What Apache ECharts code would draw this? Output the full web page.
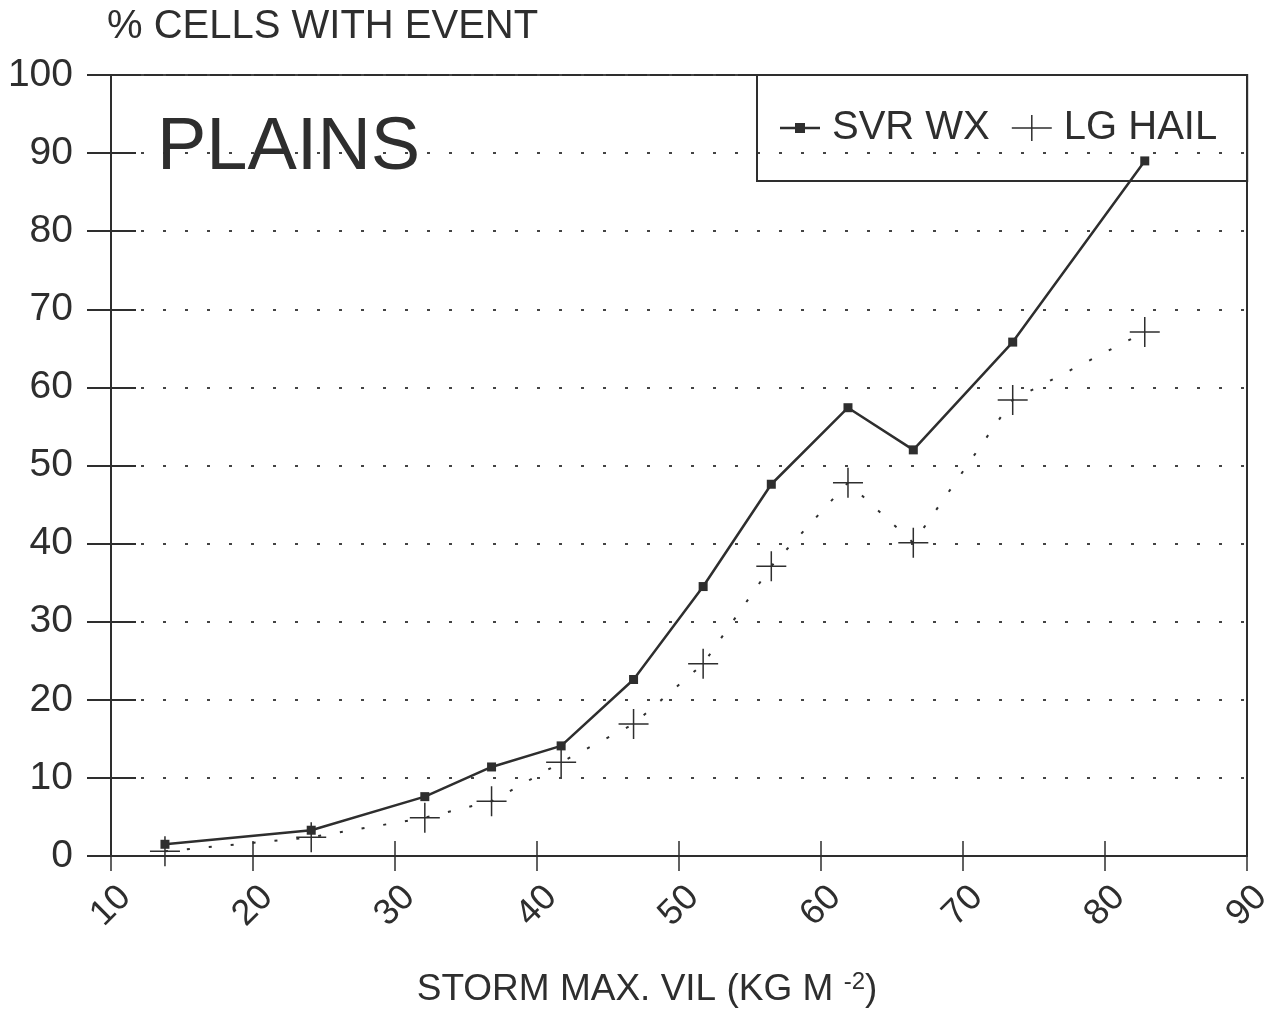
<!DOCTYPE html>
<html><head><meta charset="utf-8">
<script src="https://cdn.jsdelivr.net/npm/echarts@6/dist/echarts.min.js"></script>
<style>html,body{margin:0;padding:0;background:#fff}#c{width:1267px;height:1009px}</style>
</head><body><div id="c"></div>
<script>
// ---- data ----
const vilBins = [13.8, 24.1, 32.1, 36.8, 41.7, 46.8, 51.7, 56.5, 61.9, 66.5, 73.5, 82.8];
const svrWx   = [1.5, 3.3, 7.6, 11.4, 14.1, 22.6, 34.5, 47.6, 57.4, 52.0, 65.8, 89.0];
const lgHail  = [0.6, 2.4, 4.9, 7.0, 12.0, 16.9, 24.6, 37.1, 47.8, 40.1, 58.4, 67.1];
const xTickLabels = [10, 20, 30, 40, 50, 60, 70, 80, 90];
const yTickLabels = [0, 10, 20, 30, 40, 50, 60, 70, 80, 90, 100];
const seriesNames = ['SVR WX', 'LG HAIL'];
const yTitle = '% CELLS WITH EVENT';
const xTitle = 'STORM MAX. VIL (KG M {sup|-2})';
const panelTitle = 'PLAINS';

const FONT = '"Liberation Sans", Arial, Helvetica, sans-serif';
const INK = '#2e2e2e';
const crossSym = 'path://M9.5,0 H10.5 V9.5 H20 V10.5 H10.5 V20 H9.5 V10.5 H0 V9.5 H9.5 Z';
const crossIcon = 'path://M0,12.25 H19.25 V0 H20.75 V12.25 H40 V13.75 H20.75 V26 H19.25 V13.75 H0 Z';
const svrIcon = 'path://M0,3.75 H15 V0 H25 V3.75 H40 V6.25 H25 V10 H15 V6.25 H0 Z';

const xMin = xTickLabels[0], xMax = xTickLabels[xTickLabels.length - 1];
const yMin = yTickLabels[0], yMax = yTickLabels[yTickLabels.length - 1];
const gridPos = { left: 111, right: 20, top: 75, bottom: 153, outerBoundsMode: 'none', containLabel: false };

const chart = echarts.init(document.getElementById('c'), null, { renderer: 'canvas' });
chart.setOption({
  animation: false,
  backgroundColor: '#fff',
  textStyle: { fontFamily: FONT, color: INK },
  title: {
    text: panelTitle, left: 157, top: 112, padding: 0,
    textStyle: { fontSize: 74, fontWeight: 'normal', color: INK, fontFamily: FONT }
  },
  legend: {
    left: 757, top: 75, padding: [33, 30, 33, 23],
    borderColor: INK, borderWidth: 2,
    itemWidth: 40, itemHeight: 30, itemGap: 22, selectedMode: false,
    textStyle: { fontSize: 40, color: INK, fontFamily: FONT, padding: [0, 0, 0, 7] },
    data: [{ name: seriesNames[0], icon: svrIcon }, { name: seriesNames[1], icon: crossIcon }]
  },
  grid: [
    Object.assign({ show: true, borderColor: INK, borderWidth: 2, backgroundColor: 'transparent' }, gridPos),
    Object.assign({ show: false }, gridPos)
  ],
  xAxis: [{
    type: 'value', gridIndex: 0, min: xMin, max: xMax, interval: 10,
    name: xTitle, nameLocation: 'middle', nameGap: 114,
    nameTextStyle: { fontSize: 37, color: INK, fontFamily: FONT, padding: [0, 64, 0, 0], lineHeight: 40,
      rich: { sup: { fontSize: 24, verticalAlign: 'top', lineHeight: 24, color: INK, fontFamily: FONT } } },
    axisLine: { show: true, lineStyle: { color: INK, width: 2 } },
    axisTick: { show: true, inside: false, length: 15, lineStyle: { color: INK, width: 1.5 } },
    axisLabel: { fontSize: 36, color: INK, fontFamily: FONT, rotate: 45, align: 'center', verticalAlign: 'middle', margin: 50 },
    splitLine: { show: false }
  }, {
    type: 'value', gridIndex: 1, min: xMin, max: xMax, interval: 10,
    axisLine: { show: false }, axisLabel: { show: false }, splitLine: { show: false },
    axisTick: { show: true, inside: true, length: 15, lineStyle: { color: INK, width: 1.5 } }
  }],
  yAxis: [{
    type: 'value', gridIndex: 0, min: yMin, max: yMax, interval: 10,
    name: yTitle, nameLocation: 'end', nameGap: 48,
    nameTextStyle: { fontSize: 40, color: INK, fontFamily: FONT, align: 'left', verticalAlign: 'middle', padding: [0, 0, 0, -4] },
    axisLine: { show: true, lineStyle: { color: INK, width: 2 } },
    axisTick: { show: true, inside: false, length: 24, lineStyle: { color: INK, width: 2 } },
    axisLabel: { fontSize: 39, color: INK, fontFamily: FONT, margin: 38 },
    splitLine: { show: true, lineStyle: { color: '#444', width: 2, type: [3, 19], dashOffset: -8 } }
  }, {
    type: 'value', gridIndex: 1, min: yMin, max: yMax, interval: 10,
    axisLine: { show: false }, axisLabel: { show: false }, splitLine: { show: false },
    axisTick: { show: true, inside: true, length: 25, lineStyle: { color: INK, width: 2 } }
  }],
  series: [{
    name: seriesNames[0], type: 'line', xAxisIndex: 0, yAxisIndex: 0,
    data: vilBins.map((x, i) => [x, svrWx[i]]),
    symbol: 'rect', symbolSize: 9, showAllSymbol: true,
    lineStyle: { color: INK, width: 2.5 }, itemStyle: { color: INK }, z: 4
  }, {
    name: seriesNames[1], type: 'line', xAxisIndex: 0, yAxisIndex: 0,
    data: vilBins.map((x, i) => [x, lgHail[i]]),
    symbol: crossSym, symbolSize: 30, showAllSymbol: true,
    lineStyle: { color: INK, width: 2, type: [3, 19] }, itemStyle: { color: INK }, z: 3
  }]
});
</script></body></html>
